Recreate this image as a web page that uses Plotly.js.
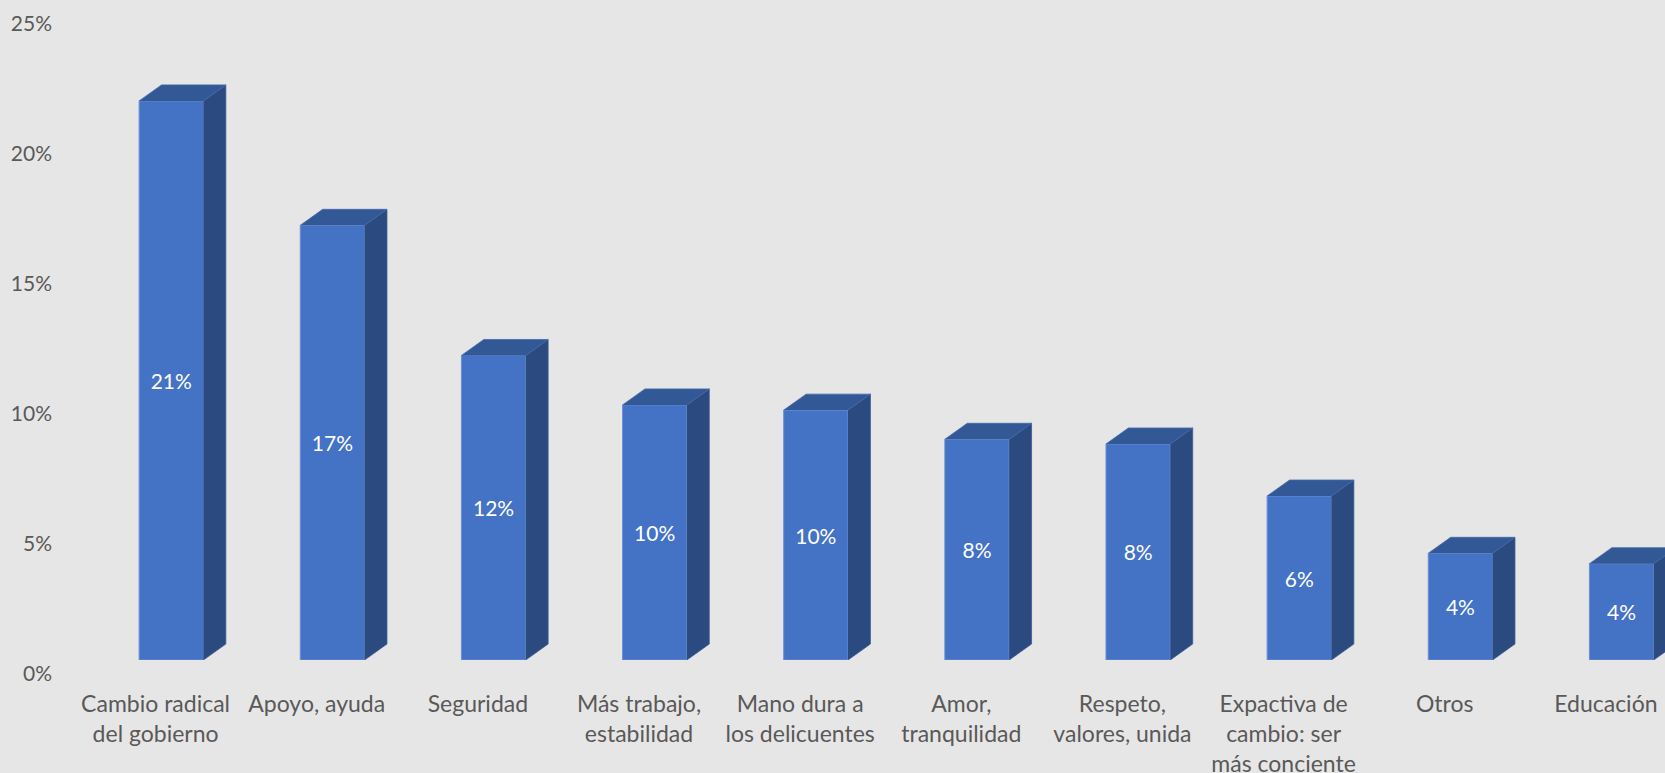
<!DOCTYPE html>
<html>
<head>
<meta charset="utf-8">
<script src="https://cdn.plot.ly/plotly-3.0.1.min.js"></script>
<style>html,body{margin:0;padding:0;background:#E7E6E6;overflow:hidden}</style>
</head>
<body>
<div id="chart" style="width:1665px;height:773px"></div>
<script>
const categories = [
  "Cambio radical<br>del gobierno",
  "Apoyo, ayuda",
  "Seguridad",
  "Más trabajo,<br>estabilidad",
  "Mano dura a<br>los delicuentes",
  "Amor,<br>tranquilidad",
  "Respeto,<br>valores, unida",
  "Expactiva de<br>cambio: ser<br>más conciente",
  "Otros",
  "Educación"
];
const values = [0.2148, 0.167, 0.117, 0.098, 0.096, 0.0848, 0.083, 0.063, 0.041, 0.037];
const yTicks = [0, 0.05, 0.10, 0.15, 0.20, 0.25];
const yTickText = ["0%", "5%", "10%", "15%", "20%", "25%"];

// style / geometry constants (not data)
const FRONT = "#4472C4", SIDE = "#2B4A80", TOP = "#335896";
const OFFSET = -0.102, WIDTH = 0.399;   // bar front face in category units
const DX = 0.139, DY = 0.00614;         // depth vector in data units

const idx = categories.map((_, i) => i);

const sideX = [], sideY = [], topX = [], topY = [];
idx.forEach(i => {
  const v = values[i];
  const xl = i + OFFSET, xr = i + OFFSET + WIDTH;
  sideX.push(xr, xr + DX, xr + DX, xr, null);
  sideY.push(0, DY, v + DY, v, null);
  topX.push(xl, xl + DX, xr + DX, xr, null);
  topY.push(v, v + DY, v + DY, v, null);
});

const FONT = "Lato, 'Noto Sans', sans-serif";

const traces = [
  {
    type: "bar", x: idx, y: values,
    offset: OFFSET, width: WIDTH,
    marker: {color: FRONT, line: {color: "#6A8FD4", width: 1}},
    texttemplate: "%{y:.0%}", textposition: "inside", insidetextanchor: "middle",
    constraintext: "none",
    textfont: {family: FONT, size: 21, color: "#FFFFFF"},
    hoverinfo: "skip", showlegend: false
  },
  {
    type: "scatter", mode: "lines", x: sideX, y: sideY, fill: "toself",
    fillcolor: SIDE, line: {color: "#3A5A92", width: 0.8},
    hoverinfo: "skip", showlegend: false
  },
  {
    type: "scatter", mode: "lines", x: topX, y: topY, fill: "toself",
    fillcolor: TOP, line: {color: "#4468A8", width: 0.8},
    hoverinfo: "skip", showlegend: false
  }
];

const layout = {
  width: 1665, height: 773,
  paper_bgcolor: "#E7E6E6", plot_bgcolor: "#E7E6E6",
  margin: {l: 75, r: 0, t: 9, b: 113},
  showlegend: false,
  font: {family: FONT, color: "#595959", size: 20},
  xaxis: {
    range: [-0.5, 9.367], tickmode: "array", tickvals: idx, ticktext: categories,
    showgrid: false, zeroline: false, showline: false, ticks: "",
    ticklabelstandoff: 28, tickangle: 0,
    tickfont: {family: FONT, size: 23, color: "#595959"}
  },
  yaxis: {
    range: [0, 0.2501], tickmode: "array", tickvals: yTicks, ticktext: yTickText,
    showgrid: false, zeroline: false, showline: false, ticks: "",
    ticklabelshift: 14, ticklabelstandoff: 22,
    tickfont: {family: FONT, size: 21, color: "#595959"}
  },
  bargap: 0
};

Plotly.newPlot("chart", traces, layout, {displayModeBar: false, staticPlot: true});
</script>
</body>
</html>
